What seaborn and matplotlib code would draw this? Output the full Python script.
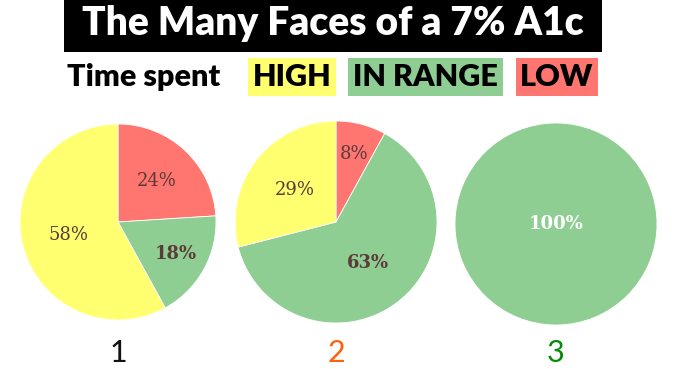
import matplotlib
matplotlib.use("Agg")
import matplotlib.pyplot as plt
from matplotlib.patches import Rectangle
import seaborn as sns

# ---- data ----
chart_ids = ["1", "2", "3"]
categories = ["LOW", "IN RANGE", "HIGH"]
low_pct = [24, 8, 0]
in_range_pct = [18, 63, 100]
high_pct = [58, 29, 0]
title = "The Many Faces of a 7% A1c"
legend_lead = "Time spent"
legend_labels = ["HIGH", "IN RANGE", "LOW"]

# ---- style ----
sns.set_theme(style="white")
plt.rcParams["font.family"] = ["Lato", "DejaVu Sans"]
cat_colors = {"LOW": "#FF756F", "IN RANGE": "#8FCE93", "HIGH": "#FFFF70"}
id_colors = ["#111111", "#FF6010", "#078A07"]

W, H = 673, 369
fig = plt.figure(figsize=(W / 100, H / 100), dpi=100)
fig.patch.set_facecolor("white")

def fx(x):
    return x / W

def fy(y):
    return 1 - y / H

# title box
fig.patches.append(Rectangle((fx(64), fy(52)), fx(602) - fx(64), fy(0) - fy(52),
                             transform=fig.transFigure, facecolor="black", edgecolor="none"))
fig.text(fx(333), fy(24), title, color="white", fontsize=28, fontweight="heavy",
         ha="center", va="center")

# legend row
fig.text(fx(67), fy(77), legend_lead, color="black", fontsize=22, fontweight="heavy",
         ha="left", va="center")
boxes = {"HIGH": (248, 336), "IN RANGE": (348, 503), "LOW": (516, 598)}
for lab in legend_labels:
    x0, x1 = boxes[lab]
    fig.patches.append(Rectangle((fx(x0), fy(96)), fx(x1) - fx(x0), fy(58) - fy(96),
                                 transform=fig.transFigure, facecolor=cat_colors[lab],
                                 edgecolor="none"))
    fig.text(fx((x0 + x1) / 2), fy(77.5), lab, color="black", fontsize=22,
             fontweight="heavy", ha="center", va="center")

# pies
centers = [(118, 222, 98), (336, 222, 101), (556, 224, 101)]
label_dist = [[0.58, 0.67, 0.52], [0.70, 0.52, 0.51], [0.0, 0.0, 0.0]]
label_bold = [[False, True, False], [False, True, False], [True, True, True]]

for i, cid in enumerate(chart_ids):
    vals = [low_pct[i], in_range_pct[i], high_pct[i]]
    cx, cy, r = centers[i]
    ax = fig.add_axes([fx(cx - r), fy(cy + r), 2 * r / W, 2 * r / H])
    keep = [k for k, v in enumerate(vals) if v > 0]
    v = [vals[k] for k in keep]
    cats = [categories[k] for k in keep]
    wedges, texts, autotexts = ax.pie(
        v, colors=[cat_colors[c] for c in cats], startangle=90, counterclock=False,
        autopct=lambda p: f"{p:.0f}%", pctdistance=0.6,
        wedgeprops=dict(linewidth=0.6, edgecolor="white"),
    )
    ax.set_xlim(-1.0, 1.0)
    ax.set_ylim(-1.0, 1.0)
    ax.set_axis_off()
    for t, k in zip(autotexts, keep):
        x, y = t.get_position()
        d = (x ** 2 + y ** 2) ** 0.5
        nd = label_dist[i][k]
        if d > 0:
            t.set_position((x / d * nd, y / d * nd))
        else:
            t.set_position((0, 0))
        t.set_fontfamily("DejaVu Serif")
        t.set_fontsize(13)
        t.set_fontweight("bold" if label_bold[i][k] else "normal")
        t.set_color("white" if len(keep) == 1 else "#5B3A3A")
    fig.text(fx(cx), fy(353), cid, color=id_colors[i], fontsize=22,
             ha="center", va="center")

fig.savefig("out.png", dpi=100, facecolor="white")
